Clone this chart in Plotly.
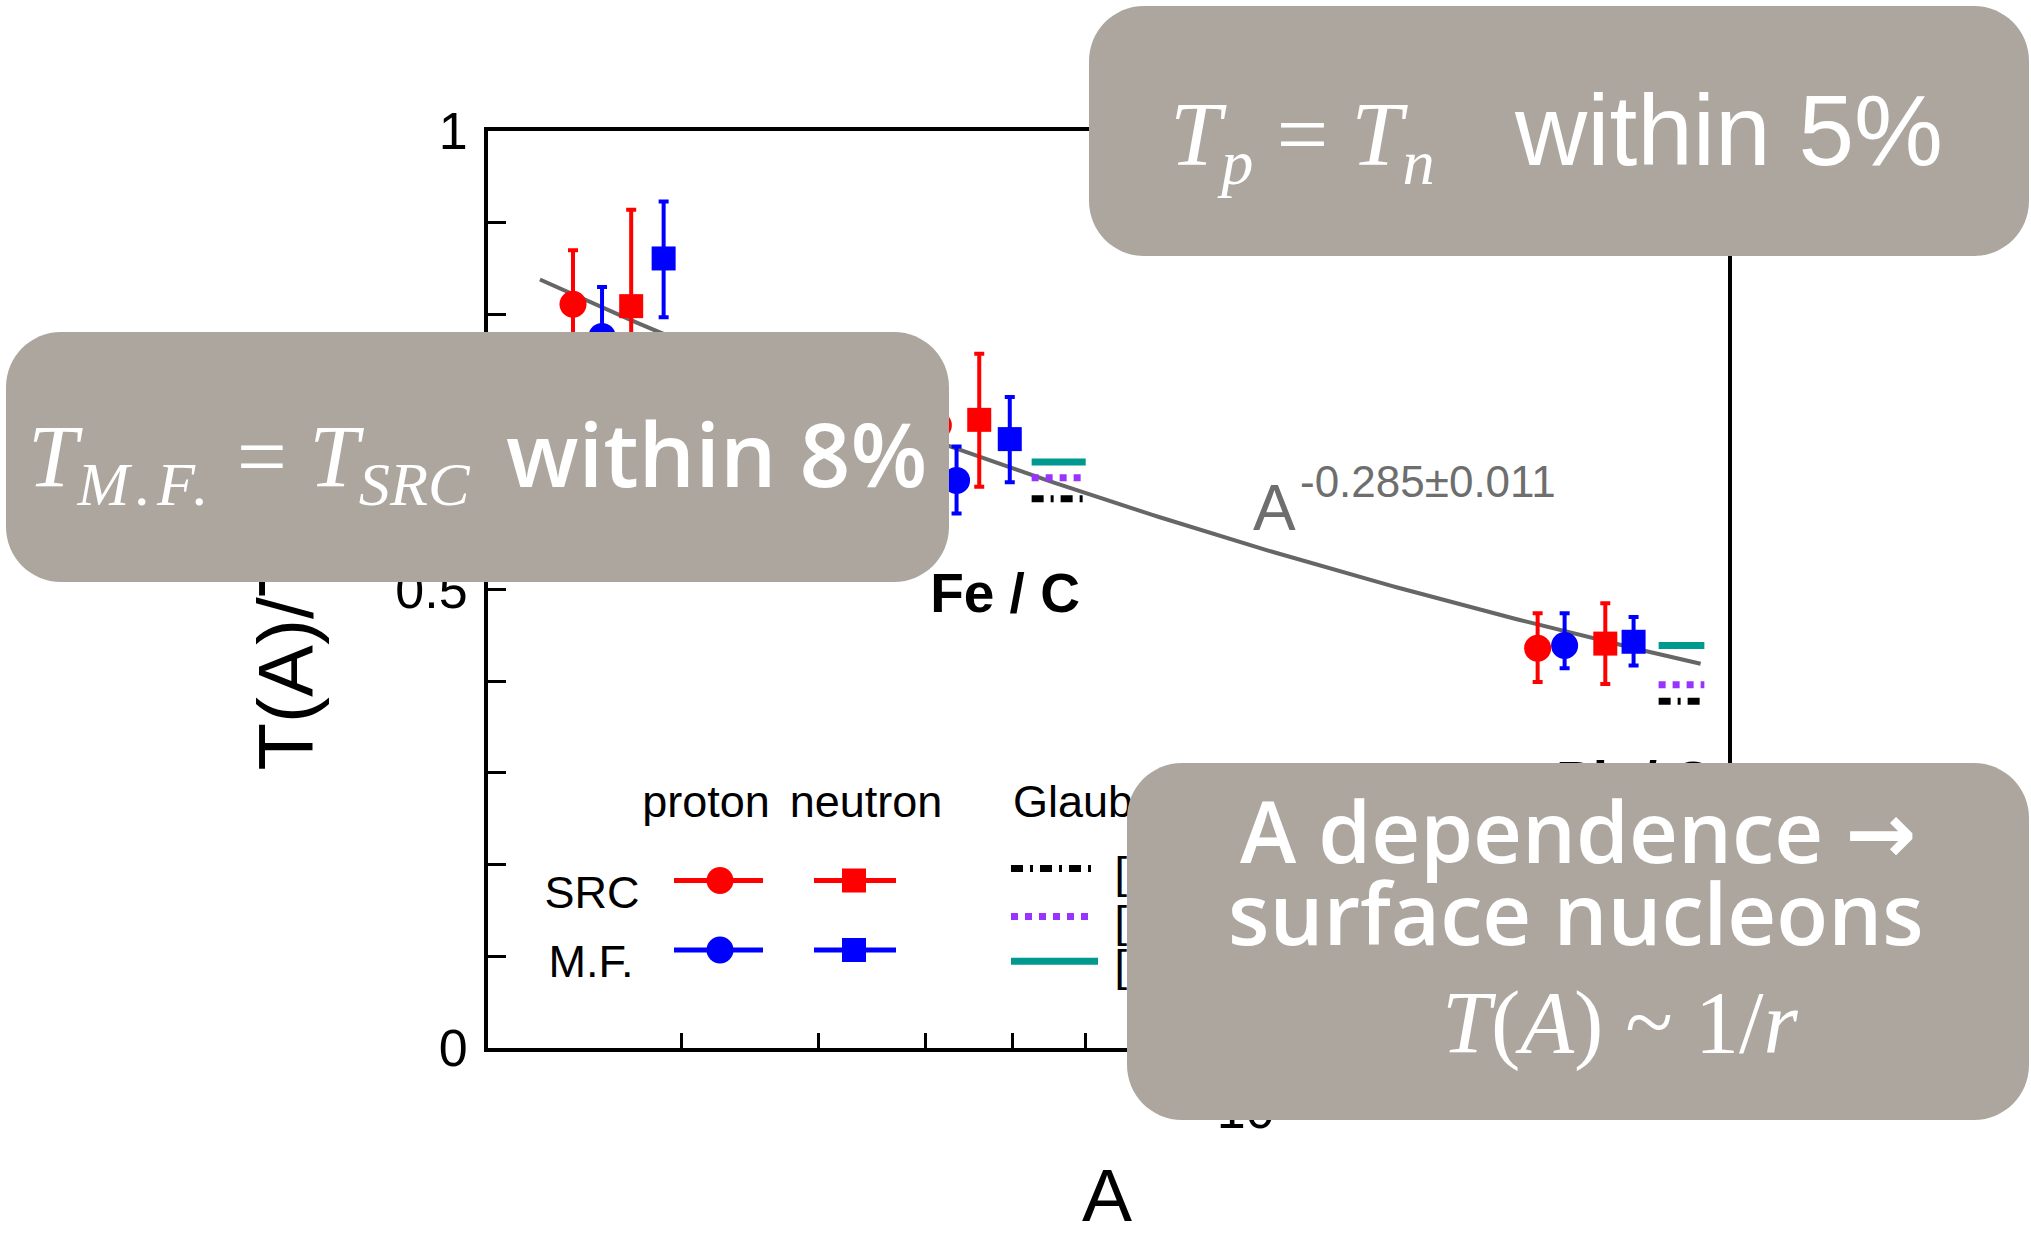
import numpy as np
import plotly.graph_objects as go

# ---------------- data ----------------
# x positions are the plotted A coordinates of each marker (groups: Al/C, Fe/C, Pb/C)
src_p_A = [23.9, 51.4, 180.5]
src_p_T = [0.811, 0.679, 0.436]
src_p_eplus = [0.059, 0.060, 0.038]
src_p_eminus = [0.059, 0.060, 0.037]

mf_p_A = [25.4, 53.4, 191.0]
mf_p_T = [0.776, 0.619, 0.439]
mf_p_eplus = [0.054, 0.037, 0.035]
mf_p_eminus = [0.054, 0.036, 0.025]

src_n_A = [27.0, 56.0, 208.0]
src_n_T = [0.809, 0.685, 0.441]
src_n_eplus = [0.105, 0.072, 0.044]
src_n_eminus = [0.105, 0.073, 0.044]

mf_n_A = [28.9, 59.7, 220.7]
mf_n_T = [0.861, 0.664, 0.443]
mf_n_eplus = [0.062, 0.046, 0.027]
mf_n_eminus = [0.064, 0.047, 0.026]

# Glauber calculations (Fe, Pb): horizontal segments
glauber_A_start = [62.5, 232.6]
glauber_A_end = [70.0, 256.0]
glauber_teal = [0.639, 0.439]
glauber_purple = [0.622, 0.396]
glauber_black = [0.599, 0.378]

# fit  T(A)/T(C) = (A/12)^(-alpha)
fit_alpha = 0.285
fit_A_ref = 12.0
fit_A_range = [22.3, 254.0]

y_tick_vals = [0, 0.1, 0.2, 0.3, 0.4, 0.5, 0.6, 0.7, 0.8, 0.9, 1.0]
y_tick_text = ["0", "", "", "", "", "0.5", "", "", "", "", "1"]
x_tick_vals = [20, 30, 40, 50, 60, 70, 80, 90, 100, 200]
x_tick_text = ["", "", "", "", "", "", "", "", "10<sup>2</sup>", ""]

# ---------------- geometry ----------------
FW, FH = 2031, 1239
L, R, T, B = 488, 1728, 131, 1048
W, H = R - L, B - T


def px(x):
    return (x - L) / W


def py(y):
    return (B - y) / H


RED = "#ff0000"
BLUE = "#0000ff"
TEAL = "#009990"
PURPLE = "#9933ff"
BOXC = "#aca69f"

fig = go.Figure()

# fit line
fa = np.geomspace(fit_A_range[0], fit_A_range[1], 200)
fig.add_trace(go.Scatter(x=fa, y=(fa / fit_A_ref) ** (-fit_alpha), mode="lines",
                         line=dict(color="#666666", width=4), showlegend=False, hoverinfo="skip"))


def seg(vals):
    xs, ys = [], []
    for a0, a1, v in zip(glauber_A_start, glauber_A_end, vals):
        xs += [a0, a1, None]
        ys += [v, v, None]
    return xs, ys


for vals, col, dash in [(glauber_black, "black", "12px,7px,3px,7px"),
                        (glauber_purple, PURPLE, "dot"),
                        (glauber_teal, TEAL, "solid")]:
    xs, ys = seg(vals)
    fig.add_trace(go.Scatter(x=xs, y=ys, mode="lines", line=dict(color=col, width=7, dash=dash),
                             showlegend=False, hoverinfo="skip"))


def pts(xv, yv, ep, em, col, sym, size):
    fig.add_trace(go.Scatter(
        x=xv, y=yv, mode="markers",
        marker=dict(color=col, symbol=sym, size=size, opacity=1, line=dict(width=0)),
        error_y=dict(type="data", array=ep, arrayminus=em, color=col, thickness=4, width=5),
        showlegend=False, cliponaxis=False))


pts(src_p_A, src_p_T, src_p_eplus, src_p_eminus, RED, "circle", 27)
pts(mf_p_A, mf_p_T, mf_p_eplus, mf_p_eminus, BLUE, "circle", 27)
pts(src_n_A, src_n_T, src_n_eplus, src_n_eminus, RED, "square", 24)
pts(mf_n_A, mf_n_T, mf_n_eplus, mf_n_eminus, BLUE, "square", 24)

# ---------------- legend glyphs (pixel overlay axes) ----------------
leg_rows = {"SRC": (880.5, RED), "M.F.": (950.0, BLUE)}
for name, (yy, col) in leg_rows.items():
    for (x0, xm, x1, sym, size) in [(674, 720, 763, "circle", 27), (814, 854, 896, "square", 24)]:
        fig.add_trace(go.Scatter(x=[x0, x1], y=[yy, yy], mode="lines", xaxis="x2", yaxis="y2",
                                 line=dict(color=col, width=5), showlegend=False, hoverinfo="skip"))
        fig.add_trace(go.Scatter(x=[xm], y=[yy], mode="markers", xaxis="x2", yaxis="y2",
                                 marker=dict(color=col, symbol=sym, size=size, opacity=1,
                                             line=dict(width=0)),
                                 showlegend=False, hoverinfo="skip"))
for yy, col, dash, x1 in [(868.4, "black", "12px,7px,3px,7px", 1091),
                          (916.6, PURPLE, "dot", 1091),
                          (961.3, TEAL, "solid", 1098)]:
    fig.add_trace(go.Scatter(x=[1011, x1], y=[yy, yy], mode="lines", xaxis="x2", yaxis="y2",
                             line=dict(color=col, width=7, dash=dash), showlegend=False, hoverinfo="skip"))

# ---------------- shapes: labels (under boxes) then boxes ----------------
shapes = []


def label_shape(xc, yc, text, size, color="black", family="Liberation Sans", angle=0):
    e = 0.0004
    shapes.append(dict(type="rect", xref="paper", yref="paper",
                       x0=px(xc) - e, x1=px(xc) + e, y0=py(yc) - e, y1=py(yc) + e,
                       line=dict(width=0, color="rgba(0,0,0,0)"), fillcolor="rgba(0,0,0,0)",
                       layer="above",
                       label=dict(text=text, textposition="middle center", textangle=angle, padding=0,
                                  font=dict(family=family, size=size, color=color))))


label_shape(279, 606, "T(A)/T(C)", 78, angle=-90)
label_shape(1005, 588, "<b>Fe / C</b>", 55)
label_shape(1634, 776, "<b>Pb / C</b>", 55)
label_shape(662, 460, "<b>Al / C</b>", 55)
label_shape(706, 797, "proton", 45)
label_shape(866, 797, "neutron", 45)
label_shape(1093, 797, "Glauber", 45)
label_shape(592, 888, "SRC", 45)
label_shape(591, 957, "M.F.", 45)
for yy, t in [(868, "[39]"), (917, "[40]"), (961, "[41]")]:
    label_shape(1152, yy, t, 45)


def rrect(x0, y0, x1, y1, r=55):
    k = 0.5523 * r
    P = lambda x, y: f"{px(x):.6f},{py(y):.6f}"
    return (f"M {P(x0 + r, y0)} L {P(x1 - r, y0)} "
            f"C {P(x1 - r + k, y0)} {P(x1, y0 + r - k)} {P(x1, y0 + r)} "
            f"L {P(x1, y1 - r)} C {P(x1, y1 - r + k)} {P(x1 - r + k, y1)} {P(x1 - r, y1)} "
            f"L {P(x0 + r, y1)} C {P(x0 + r - k, y1)} {P(x0, y1 - r + k)} {P(x0, y1 - r)} "
            f"L {P(x0, y0 + r)} C {P(x0, y0 + r - k)} {P(x0 + r - k, y0)} {P(x0 + r, y0)} Z")


for (x0, y0, x1, y1) in [(1089, 6, 2029, 256), (6, 332, 949, 582), (1127, 763, 2029, 1120)]:
    shapes.append(dict(type="path", xref="paper", yref="paper", path=rrect(x0, y0, x1, y1),
                       fillcolor=BOXC, line=dict(width=0), layer="above"))

# ---------------- annotations (on top) ----------------
ann = []


def note(x, y, text, size, family, color="white", xanchor="left", yanchor="middle", weight=None):
    f = dict(family=family, size=size, color=color)
    if weight:
        f["weight"] = weight
    ann.append(dict(x=px(x), y=py(y), xref="paper", yref="paper", text=text, showarrow=False,
                    xanchor=xanchor, yanchor=yanchor, font=f))


# x axis title
note(1107, 1195, "A", 75, "Liberation Sans", color="black", xanchor="center")

# fit label
note(1274, 508, "A", 64, "Liberation Sans", color="#6e6e6e", xanchor="center")
note(1298, 482, "-0.285\u00b10.011", 44, "Liberation Sans", color="#6e6e6e")

# box 1
note(1168, 140, "<i>T</i><sub><i>p</i></sub> = <i>T</i><sub><i>n</i></sub>", 92, "Liberation Serif")
note(1512, 130, "within 5%", 100, "Liberation Sans")
# box 2
note(26, 462, "<i>T</i><sub><i><span style='letter-spacing:6px'>M.F.</span></i></sub> = "
              "<i>T</i><sub><i>SRC</i></sub>", 89, "Liberation Serif")
note(504, 452, "within 8%", 89, "Open Sans", weight=600)
# box 3
note(1578, 830, "A dependence <span style='font-family:DejaVu Sans'>\u2192</span>", 85,
     "Open Sans", xanchor="center", weight=600)
note(1576, 912, "surface nucleons", 85, "Open Sans", xanchor="center", weight=600)
note(1620, 1022, "<i>T</i>(<i>A</i>) ~ 1/<i>r</i>", 88, "Liberation Serif", xanchor="center")

axis_common = dict(showline=True, linewidth=4, linecolor="black", mirror=True,
                   ticks="inside", tickcolor="black", showgrid=False, zeroline=False,
                   tickfont=dict(family="Liberation Sans", size=52, color="black"))

fig.update_layout(
    width=FW, height=FH,
    margin=dict(l=L, r=FW - R, t=T, b=FH - B, pad=0),
    paper_bgcolor="white", plot_bgcolor="white",
    showlegend=False,
    xaxis=dict(type="log", range=[np.log10(20), np.log10(269)], tickvals=x_tick_vals,
               ticktext=x_tick_text, ticklen=15, tickwidth=3, ticklabelstandoff=14, **axis_common),
    yaxis=dict(range=[0, 1], tickvals=y_tick_vals, ticktext=y_tick_text, ticklen=18, tickwidth=3,
               ticklabelstandoff=6, **axis_common),
    xaxis2=dict(overlaying="x", range=[L, R], visible=False, fixedrange=True),
    yaxis2=dict(overlaying="y", range=[B, T], visible=False, fixedrange=True),
    shapes=shapes,
    annotations=ann,
)

fig.write_html("out.html")
